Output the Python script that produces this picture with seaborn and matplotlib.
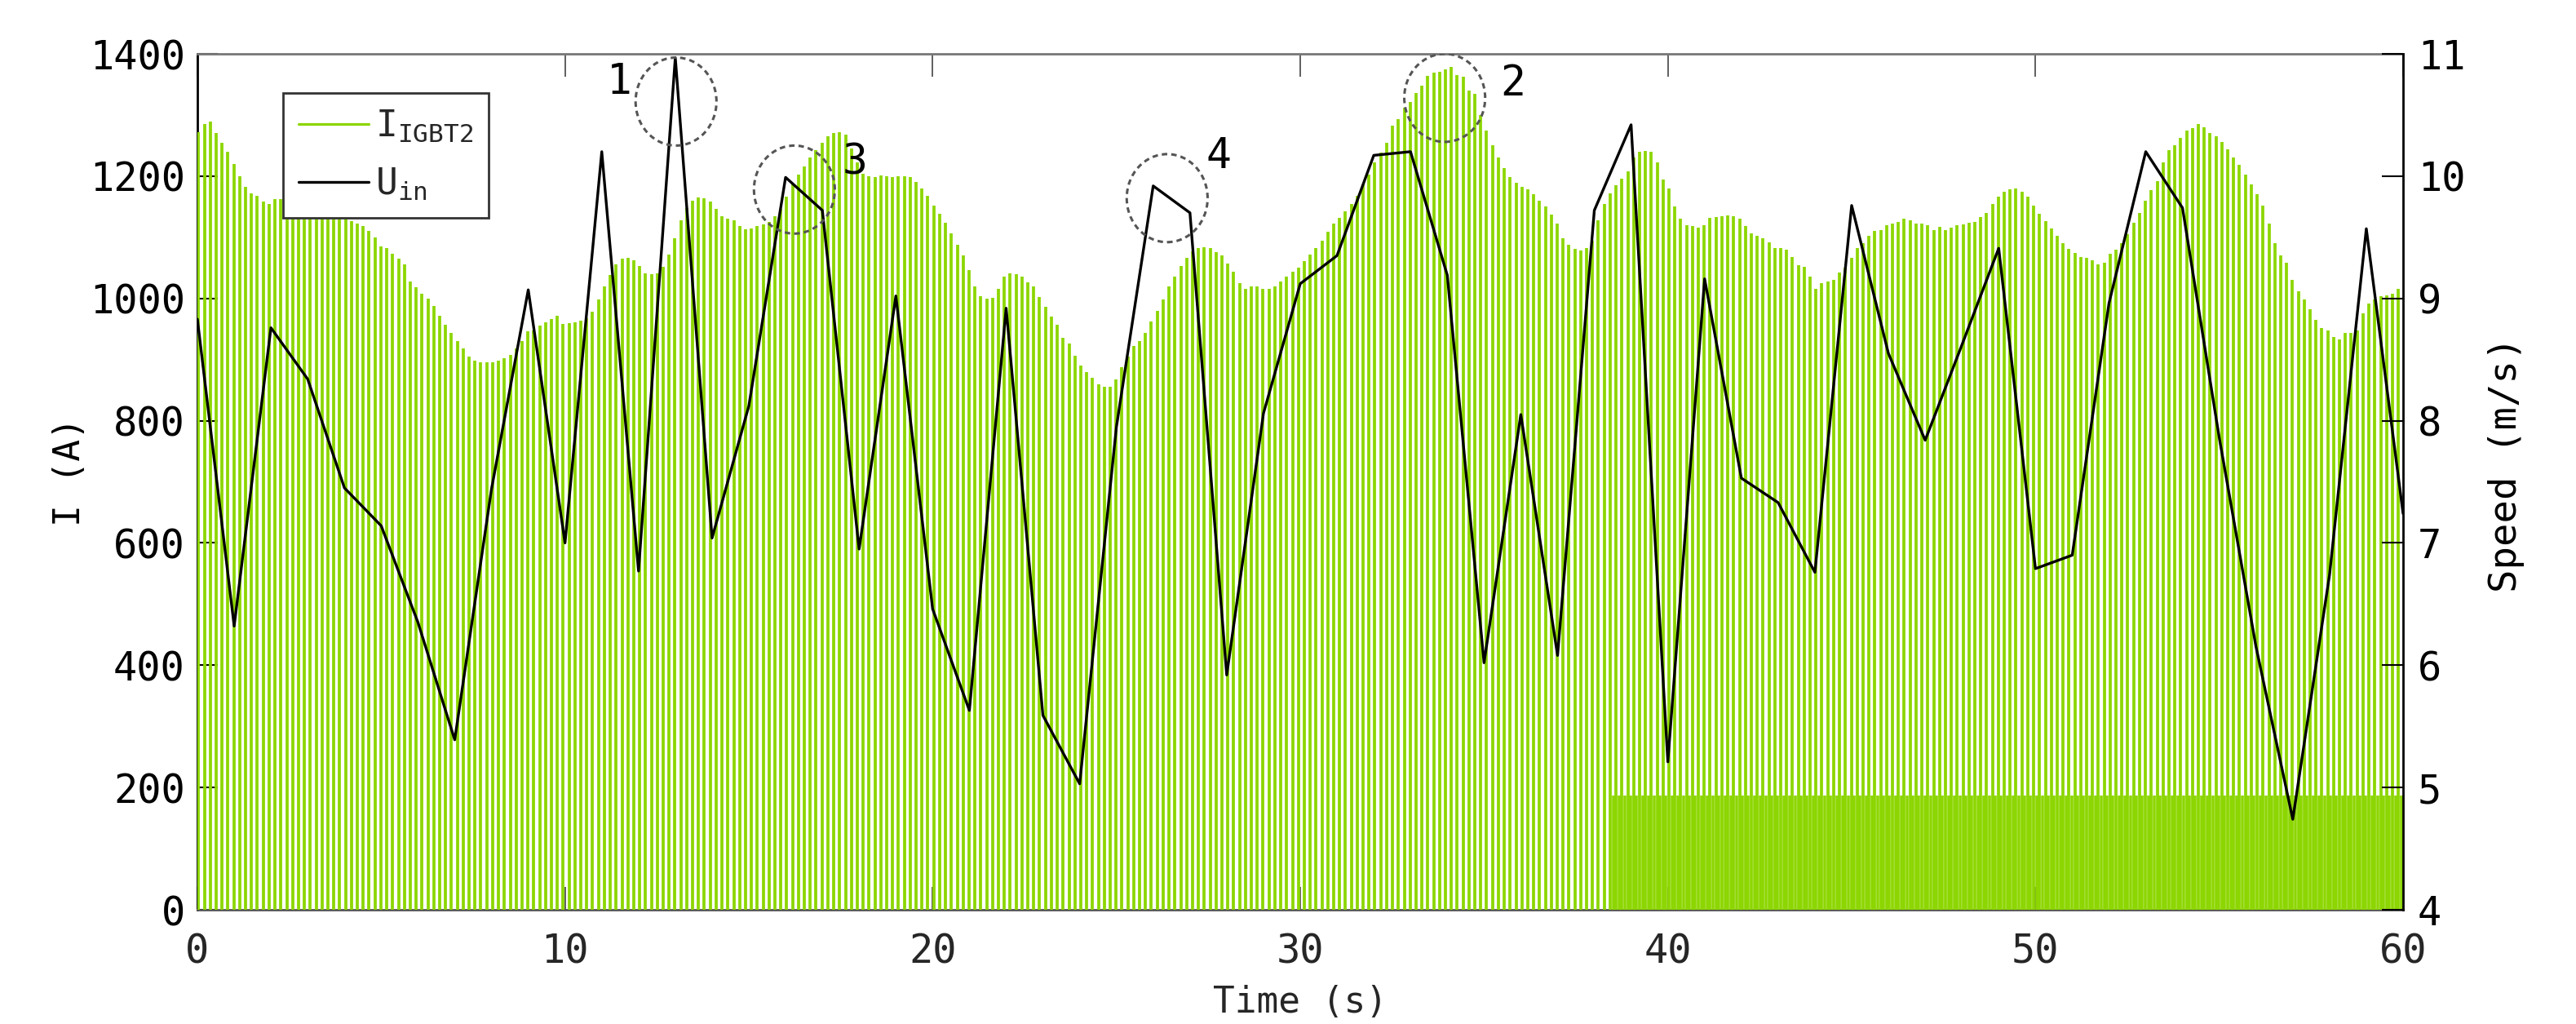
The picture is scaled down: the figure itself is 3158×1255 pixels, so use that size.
"""
IGBT2 current pulses vs. input wind speed over 60 s.
"""

import matplotlib
matplotlib.use("Agg")
import matplotlib.pyplot as plt
from matplotlib.lines import Line2D
from matplotlib.patches import Ellipse
import numpy as np
import seaborn as sns

# --- data -----------------------------------------------------------------
# peak current of each IGBT2 conduction pulse (A), one pulse every 0.16 s from t=0.03 s
pulse_peaks = [
    1272, 1285, 1289, 1270, 1255, 1240, 1220, 1200, 1182, 1172, 1168, 1158, 1155,
    1163, 1162, 1160, 1158, 1156, 1154, 1152, 1150, 1147, 1144, 1140, 1136,
    1131, 1127, 1122, 1118, 1110, 1100, 1085, 1082, 1073, 1065, 1056, 1028, 1018,
    1008, 1000, 988, 971, 957, 943, 930, 918, 905, 898, 895, 895,
    895, 898, 902, 908, 918, 930, 946, 948, 955, 961, 966, 972, 958,
    959, 961, 964, 967, 978, 998, 1020, 1038, 1056, 1065, 1066, 1063,
    1053, 1041, 1039, 1041, 1052, 1072, 1098, 1128, 1148, 1160, 1165, 1164, 1158,
    1146, 1134, 1130, 1128, 1118, 1113, 1114, 1118, 1121, 1125, 1134, 1146,
    1166, 1188, 1203, 1216, 1230, 1242, 1255, 1265, 1271, 1272, 1268, 1245, 1222,
    1204, 1200, 1199, 1201, 1200, 1199, 1200, 1200, 1199, 1190, 1180, 1168,
    1152, 1138, 1124, 1107, 1088, 1070, 1046, 1020, 1004, 1000, 1001, 1015, 1035,
    1041, 1040, 1036, 1026, 1019, 1002, 986, 970, 957, 936, 926, 906,
    890, 880, 870, 860, 856, 855, 868, 888, 905, 922, 930, 944, 962,
    980, 998, 1020, 1036, 1053, 1067, 1077, 1082, 1084, 1083, 1076, 1071,
    1057, 1043, 1025, 1016, 1019, 1019, 1016, 1016, 1020, 1028, 1035, 1043, 1050,
    1061, 1072, 1082, 1094, 1109, 1122, 1132, 1142, 1154, 1168, 1186, 1203,
    1222, 1238, 1255, 1282, 1293, 1312, 1321, 1336, 1348, 1364, 1369, 1370, 1374,
    1378, 1365, 1363, 1340, 1334, 1300, 1275, 1250, 1230, 1213, 1198, 1189,
    1182, 1178, 1170, 1160, 1150, 1137, 1122, 1099, 1088, 1081, 1079, 1083, 1095,
    1128, 1155, 1172, 1185, 1196, 1208, 1230, 1240, 1241, 1240, 1222, 1195,
    1180, 1150, 1130, 1120, 1118, 1116, 1120, 1132, 1133, 1134, 1136, 1135, 1130,
    1118, 1106, 1103, 1099, 1092, 1082, 1082, 1080, 1068, 1054, 1052, 1035,
    1015, 1025, 1028, 1030, 1042, 1050, 1067, 1082, 1090, 1103, 1110, 1112, 1120,
    1122, 1125, 1130, 1128, 1122, 1122, 1120, 1112, 1117, 1112, 1116, 1120,
    1121, 1124, 1125, 1133, 1140, 1154, 1167, 1175, 1179, 1180, 1174, 1167, 1152,
    1138, 1127, 1114, 1103, 1090, 1081, 1075, 1068, 1066, 1062, 1056, 1058,
    1073, 1080, 1091, 1105, 1124, 1140, 1160, 1177, 1192, 1222, 1242, 1251, 1262,
    1274, 1279, 1285, 1280, 1271, 1265, 1256, 1244, 1231, 1218, 1202, 1187,
    1170, 1152, 1123, 1090, 1070, 1058, 1030, 1011, 998, 982, 965, 952, 947,
    937, 933, 944, 944, 948, 975, 992, 998, 1004, 1005, 1008, 1016,
]
pulse_start = 0.03
pulse_period = 0.16

# low-level switching band that appears late in the record
band_start = 38.5
band_level = 187

# input wind speed, one sample per second (m/s)
speed_time = list(range(61))
speed_values = [
    8.83, 6.32, 8.76, 8.34, 7.45, 7.14, 6.35, 5.39, 7.44, 9.07,
    7.00, 10.20, 6.77, 10.97, 7.04, 8.12, 9.99, 9.72, 6.95, 9.02,
    6.46, 5.63, 8.92, 5.59, 5.03, 7.95, 9.92, 9.70, 5.92, 8.06,
    9.12, 9.35, 10.17, 10.20, 9.19, 6.02, 8.05, 6.08, 9.72, 10.42,
    5.21, 9.16, 7.53, 7.33, 6.76, 9.76, 8.55, 7.84, 8.62, 9.41,
    6.79, 6.90, 8.96, 10.20, 9.74, 7.86, 6.15, 4.74, 6.74, 9.57,
    7.24,
]

# marked events: label, circle centre (s, A), label position (s, A)
marker_labels = ["1", "2", "3", "4"]
marker_centres = [(13.02, 1322), (33.93, 1328), (16.24, 1178), (26.38, 1164)]
marker_text_pos = [(11.47, 1353), (35.79, 1350), (17.88, 1222), (27.78, 1232)]

GREEN = "#8CD600"

# --- style ----------------------------------------------------------------
sns.set_style("white")
plt.rcParams["font.family"] = ["DejaVu Sans Mono", "DejaVu Sans"]

fig = plt.figure(figsize=(31.58, 12.55), dpi=100)
ax = fig.add_axes([0.07663, 0.11155, 0.85624, 0.83586])
ax2 = ax.twinx()

# --- current pulses -------------------------------------------------------
peaks = np.asarray(pulse_peaks, dtype=float)
times = pulse_start + pulse_period * np.arange(len(peaks))
ax.vlines(times, 0, peaks, color=GREEN, linewidth=2.7, zorder=3)

late = times[times + pulse_period / 2 >= band_start] + pulse_period / 2
ax.vlines(late, 0, band_level, color=GREEN, linewidth=2.6, zorder=3)

ax.set_xlim(0, 60)
ax.set_ylim(0, 1400)
ax.set_yticks(np.arange(0, 1401, 200))
ax.set_xticks(np.arange(0, 61, 10))

# --- wind speed -----------------------------------------------------------
sns.lineplot(x=speed_time, y=speed_values, ax=ax2, color="black", linewidth=2.4,
             zorder=5, legend=False)
ax2.set_ylim(4, 11)
ax2.set_yticks(range(4, 12))
ax2.set_xlim(0, 60)

# --- event circles --------------------------------------------------------
for lab, (cx, cy), (tx, ty) in zip(marker_labels, marker_centres, marker_text_pos):
    ax2.add_patch(Ellipse((cx, cy), 2.2, 144, transform=ax.transData, fill=False,
                          edgecolor="#555555", linestyle=(0, (2.2, 1.6)), linewidth=2.2,
                          zorder=6))
    ax2.text(tx, ty, lab, transform=ax.transData, fontsize=37, ha="center",
             va="center", color="black", zorder=6)

# --- axes cosmetics -------------------------------------------------------
for name, sp in ax.spines.items():
    sp.set_linewidth(2)
ax.spines["left"].set_color("black")
ax.spines["top"].set_color("#777777")
ax.spines["bottom"].set_color("#555555")
ax.spines["right"].set_visible(False)
for name in ["left", "top", "bottom"]:
    ax2.spines[name].set_visible(False)
ax2.spines["right"].set_color("black")
ax2.spines["right"].set_linewidth(2)

ax.tick_params(axis="x", which="both", direction="in", top=True, bottom=True,
               length=20, width=1.2, color="#444444", labelsize=35,
               labelcolor="#262626", pad=20)
ax.tick_params(axis="y", direction="in", left=True, right=False, length=18,
               width=1.5, color="black", labelsize=35, labelcolor="black", pad=11)
ax2.tick_params(axis="y", direction="in", right=True, length=19, width=1.5,
                color="black", labelsize=35, labelcolor="black", pad=13)

ax.set_xlabel("Time (s)", fontsize=32, color="#262626", labelpad=12)
ax.set_ylabel("I (A)", fontsize=32, color="black", labelpad=2, y=0.512)
ax2.set_ylabel("Speed (m/s)", fontsize=34, color="black", labelpad=20, y=0.52)

# --- legend ---------------------------------------------------------------
handles = [Line2D([], [], color=GREEN, linewidth=2.3),
           Line2D([], [], color="black", linewidth=2.4)]
labels = [r"$\mathregular{I_{IGBT2}}$", r"$\mathregular{U_{in}}$"]
leg = ax2.legend(handles, labels, loc="upper left", bbox_to_anchor=(0.039, 0.954),
                 borderaxespad=0, fontsize=32, frameon=True, fancybox=False,
                 handlelength=1.94, handletextpad=0.18, labelspacing=0.62,
                 borderpad=0.42)
leg.get_frame().set_edgecolor("#333333")
leg.get_frame().set_linewidth(2)
leg.get_frame().set_alpha(1)
leg.set_zorder(10)

fig.savefig("out.png", dpi=100)
plt.close(fig)
